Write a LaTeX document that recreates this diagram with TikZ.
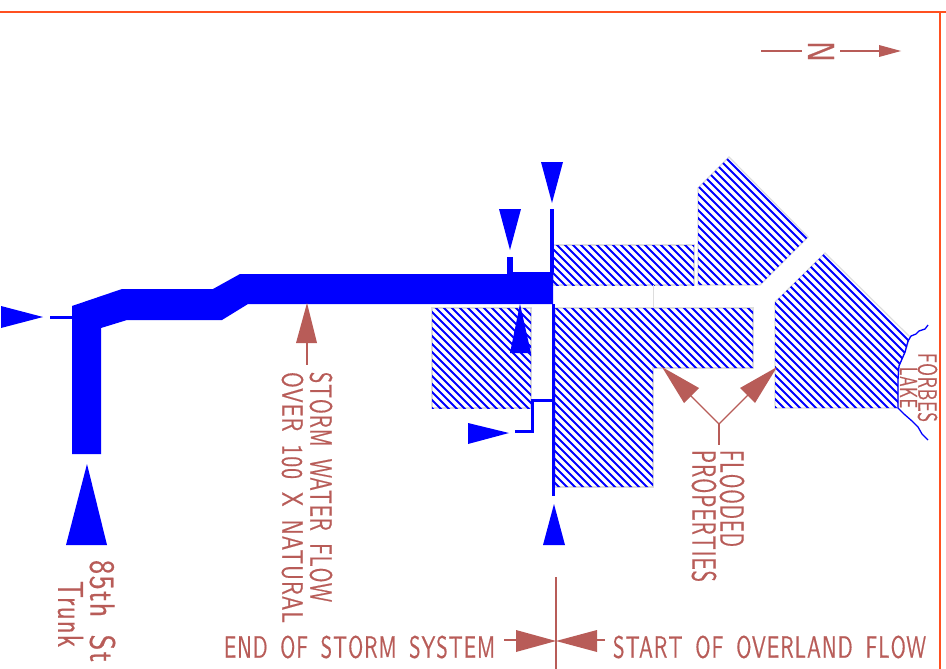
\documentclass[tikz,border=0pt]{standalone}
\usepackage{graphicx}
\usepackage{fontspec}
\newfontfamily\cadfont[LetterSpace=5,WordSpace=1.6,FakeBold=0.6]{Latin Modern Sans}
\definecolor{cadbrown}{HTML}{B85C58}
\definecolor{cadblue}{HTML}{0000FF}
\definecolor{cadframe}{HTML}{FF5020}
\definecolor{cadgrey}{HTML}{DDDDDD}
\newcommand\cad[3]{\resizebox{#1pt}{#2pt}{\cadfont #3}}
\newcommand\hatchregion[1]{%
  \draw[cadgrey,line width=1.2pt] #1;
  \begin{scope}
    \clip #1;
    \foreach \k in {-8,...,95}{
      \draw[hatchline] ({\k*8+100},100) -- ({\k*8+520},520);
    }
  \end{scope}
}
\tikzset{
  x=1pt,y=-1pt,
  hatchline/.style={cadblue,line width=1.9pt},
  bluefill/.style={fill=cadblue,draw=none},
  bluepipe/.style={draw=cadblue,line width=3pt},
  brownfill/.style={fill=cadbrown,draw=none},
  brownline/.style={draw=cadbrown,line width=1.4pt},
  cadlabel/.style={text=cadbrown,inner sep=0pt,outer sep=0pt,rotate=-90,anchor=center},
  cadlabelh/.style={text=cadbrown,inner sep=0pt,outer sep=0pt,anchor=center},
}
\begin{document}
\begin{tikzpicture}
\useasboundingbox (0,0) rectangle (946,669);
\fill[white] (0,0) rectangle (946,669);
% frame
\draw[cadframe,line width=2.6pt] (0,12) -- (946,12);
\draw[cadframe,line width=2.6pt] (940,12) -- (940,669);
% north arrow
\node[cadlabel] (north) at (821,51.5) {\cad{21}{26}{N}};
\coordinate (nw) at (761,51);
\coordinate (nhead) at (880,51);
\coordinate (ntip) at (901,51);
\draw[brownline] (nw) -- (802,51);
\draw[brownline] (840,51) -- (nhead);
\fill[brownfill] (879,45) -- (ntip) -- (879,57) -- cycle;
% hatched properties
\hatchregion{(553,245) -- (694,245) -- (694,285) -- (553,285) -- cycle}
\hatchregion{(698,188) -- (729,157) -- (808,237) -- (760,285) -- (698,285) -- cycle}
\hatchregion{(555,308) -- (753,308) -- (753,368) -- (653,368) -- (653,487) -- (555,487) -- cycle}
\hatchregion{(432,308) -- (531,308) -- (531,408) -- (432,408) -- cycle}
\hatchregion{(775,302) -- (825,253) -- (910,337) -- (905,353) -- (898,367) -- (898,408) -- (775,408) -- cycle}
\draw[cadgrey,line width=1pt] (653,285) -- (653,308);
% lake
\draw[cadblue,line width=1.3pt,line join=round] (928,325) -- (925,329) -- (919,331) -- (916,334) -- (911,336) -- (908,341) -- (905,352) -- (899,366) -- (898,380) -- (898,408) -- (904,414) -- (912,421) -- (918,427) -- (922,434) -- (928,440);
\node[cadlabel] (forbes) at (927.5,387.5) {\cad{69}{19}{FORBES}};
\node[cadlabel] (lake) at (908.5,387.5) {\cad{41}{17}{LAKE}};
% storm pipe
\fill[bluefill] (72,306) -- (122,289) -- (213,289) -- (240,274) -- (513,274) -- (513,272) -- (553,272) -- (553,304) -- (248,304) -- (222,320) -- (127,320) -- (101,328) -- (101,454) -- (72,454) -- cycle;
\draw[bluepipe] (50,317) -- (72,317);
\draw[draw=cadblue,line width=4pt] (552,209) -- (552,272);
\draw[draw=cadblue,line width=3.5pt] (553.7,304) -- (553.7,496);
\draw[draw=cadblue,line width=6pt] (510,257) -- (510,274);
\draw[bluepipe,line cap=rect] (553,400) -- (532,400) -- (532,431) -- (516,431);
% blue markers
\fill[bluefill] (1,306) -- (43,317) -- (1,328) -- cycle;
\fill[bluefill] (66,545) -- (87,464) -- (107,545) -- cycle;
\fill[bluefill] (541,162) -- (563,162) -- (552,203) -- cycle;
\fill[bluefill] (499,209) -- (521,209) -- (510,250) -- cycle;
\fill[bluefill] (510,353) -- (520,304) -- (531,353) -- cycle;
\fill[bluefill] (468,423) -- (509,433) -- (468,444) -- cycle;
\fill[bluefill] (543,545) -- (554,504) -- (565,545) -- cycle;
% storm water label
\fill[brownfill] (296,343) -- (307,303) -- (317,343) -- cycle;
\draw[brownline] (307,343) -- (307,365);
\node[cadlabel] (storm) at (321,487) {\cad{230}{22}{STORM WATER FLOW}};
\node[cadlabel] (over) at (292.5,497.5) {\cad{251}{21}{OVER 100 X NATURAL}};
% trunk label
\node[cadlabel] (st85) at (102.5,611) {\cad{102}{25}{85th St}};
\node[cadlabel] (trunk) at (70.5,614) {\cad{66}{25}{Trunk}};
% flooded properties
\coordinate (fmeet) at (719,424);
\draw[brownline] (fmeet) -- (719,445);
\draw[brownline] (fmeet) -- (690,395);
\draw[brownline] (fmeet) -- (748,395);
\fill[brownfill] (662,367) -- (699,388) -- (684,403) -- cycle;
\fill[brownfill] (777,367) -- (755,403) -- (740,388) -- cycle;
\node[cadlabel] (flooded) at (732,498.5) {\cad{97}{24}{FLOODED}};
\node[cadlabel] (props) at (704,516) {\cad{132}{24}{PROPERTIES}};
% bottom
\draw[brownline] (556,577) -- (556,669);
\fill[brownfill] (516,630) -- (556,641) -- (516,652) -- cycle;
\fill[brownfill] (597,630) -- (556,641) -- (597,652) -- cycle;
\draw[brownline] (504,640) -- (516,640);
\draw[brownline] (597,640) -- (605,640);
\node[cadlabelh] (endss) at (359.5,647) {\cad{271}{22}{END OF STORM SYSTEM}};
\node[cadlabelh] (startof) at (769.5,647) {\cad{313}{22}{START OF OVERLAND FLOW}};
\end{tikzpicture}
\end{document}
